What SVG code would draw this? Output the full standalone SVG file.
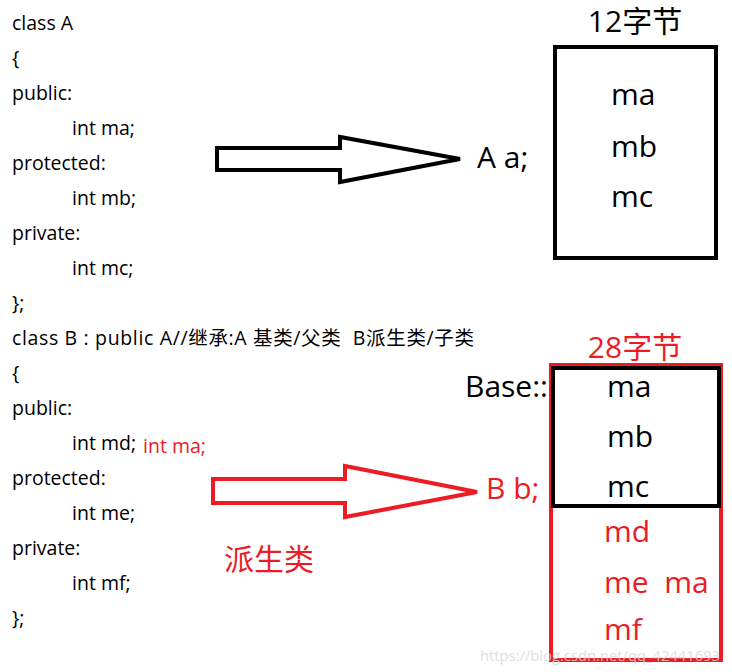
<svg xmlns="http://www.w3.org/2000/svg" width="732" height="672" viewBox="0 0 732 672">
<style>
text{font-family:"Open Sans","Noto Sans CJK SC",sans-serif;white-space:pre;}
.code{font-size:19.5px;fill:#000;}
.big{font-size:30px;fill:#000;}
.red{fill:#ed1c24;}
.arrowB{fill:#fff;stroke:#000;stroke-width:4;stroke-linejoin:miter;}
.arrowR{fill:#fff;stroke:#ed1c24;stroke-width:4;stroke-linejoin:miter;}
</style>
<rect width="732" height="672" fill="#fff"/>
<g id="code">
<text class="code" x="12" y="30">class A</text>
<text class="code" x="12" y="65">{</text>
<text class="code" x="12" y="100">public:</text>
<text class="code" x="72" y="135">int ma;</text>
<text class="code" x="12" y="170">protected:</text>
<text class="code" x="72" y="205">int mb;</text>
<text class="code" x="12" y="240">private:</text>
<text class="code" x="72" y="275">int mc;</text>
<text class="code" x="12" y="310">};</text>
<text class="code" x="12" y="345" xml:space="preserve" textLength="462" lengthAdjust="spacing">class B : public A//继承:A 基类/父类  B派生类/子类</text>
<text class="code" x="12" y="380">{</text>
<text class="code" x="12" y="415">public:</text>
<text class="code" x="72" y="450">int md;</text>
<text class="code red" x="143" y="453">int ma;</text>
<text class="code" x="12" y="485">protected:</text>
<text class="code" x="72" y="520">int me;</text>
<text class="code" x="12" y="555">private:</text>
<text class="code" x="72" y="590">int mf;</text>
<text class="code" x="12" y="625">};</text>
</g>
<g id="connectors">
<polygon class="arrowB" points="217,148 340,148 340,137 460,159 340,182 340,170 217,170"/>
<polygon class="arrowR" points="213,479 345,479 345,466 477,492 345,517 345,503 213,503"/>
</g>
<g id="objA">
<text class="big" x="477" y="168">A a;</text>
</g>
<g id="memA">
<text class="big" x="635" y="32" text-anchor="middle">12字节</text>
<rect x="555" y="47" width="161" height="211" fill="none" stroke="#000" stroke-width="4"/>
<text class="big" x="611" y="105">ma</text>
<text class="big" x="611" y="157">mb</text>
<text class="big" x="611" y="207">mc</text>
</g>
<g id="objB">
<text class="big red" x="486" y="499">B b;</text>
<text class="big red" x="224" y="570">派生类</text>
</g>
<g id="memB">
<text class="big red" x="635" y="358" text-anchor="middle">28字节</text>
<rect x="551" y="365" width="170" height="295" fill="none" stroke="#ed1c24" stroke-width="4"/>
<rect x="553" y="368" width="166" height="138" fill="none" stroke="#000" stroke-width="4"/>
<text class="big" x="465" y="397">Base::</text>
<text class="big" x="607" y="397">ma</text>
<text class="big" x="607" y="447">mb</text>
<text class="big" x="607" y="497">mc</text>
<text class="big red" x="604" y="542">md</text>
<text class="big red" x="604" y="593" xml:space="preserve">me  ma</text>
<text class="big red" x="604" y="640">mf</text>
</g>
<text x="480" y="661" font-size="14" textLength="240" lengthAdjust="spacingAndGlyphs" fill="#d8d8d8" opacity="0.8">https://blog.csdn.net/qq_42441693</text>
</svg>
